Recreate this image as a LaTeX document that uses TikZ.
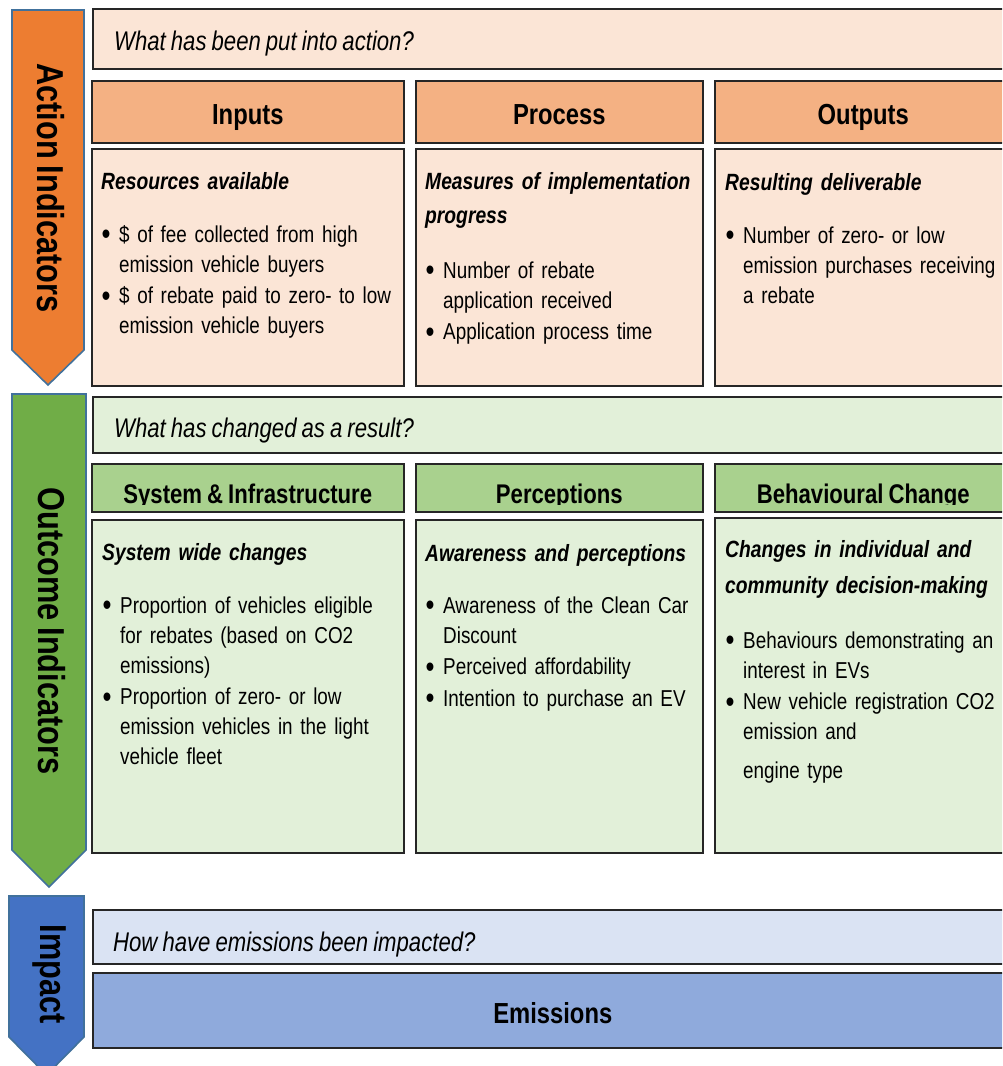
\documentclass[tikz,border=0pt]{standalone}
\usepackage{fontspec}
\setmainfont{Liberation Sans}[FakeStretch=0.82,WordSpace=0.82]
\usetikzlibrary{positioning}
\definecolor{cAct}{HTML}{ED7D31}
\definecolor{cOut}{HTML}{70AD47}
\definecolor{cImp}{HTML}{4472C4}
\definecolor{cEdge}{HTML}{41719C}
\definecolor{cActHd}{HTML}{F4B183}
\definecolor{cActBg}{HTML}{FBE5D6}
\definecolor{cOutHd}{HTML}{A9D18E}
\definecolor{cOutBg}{HTML}{E2F0D9}
\definecolor{cImpHd}{HTML}{8FAADC}
\definecolor{cImpBg}{HTML}{DAE3F3}
% bullet line with hanging indent; lines are broken by hand with \newline
\newcommand{\bitem}[1]{\hangindent=18pt\hangafter=1\noindent
  \makebox[18pt][l]{\hspace{0.5pt}\raisebox{-2.5pt}{\scalebox{1.35}{\textbullet}}}#1\par\vskip1.5pt}

\begin{document}
\begin{tikzpicture}[
  x=1pt, y=-1pt,
  cell/.style={draw=black!85,line width=1.6pt,anchor=north west,inner sep=0pt},
  band/.style={draw=cEdge,line width=1.6pt},
  bandtxt/.style={rotate=-90,inner sep=0pt,font=\fontsize{37.5}{40}\selectfont\bfseries},
  qtxt/.style={anchor=base west,inner sep=0pt,font=\fontsize{27}{32}\selectfont\itshape},
  hdtxt/.style={anchor=base,inner sep=0pt,font=\fontsize{29}{34}\selectfont\bfseries},
  hdtxtg/.style={hdtxt,font=\fontsize{27}{32}\selectfont\bfseries},
  % no align key here: lines are broken by hand
  sub/.style={anchor=base west,inner sep=0pt,text width=340pt,
    font=\fontsize{23.5}{34}\selectfont\bfseries\itshape},
  lst/.style={anchor=base west,inner sep=0pt,text width=340pt,
    font=\fontsize{23}{30}\selectfont}
]
\useasboundingbox (0,0) rectangle (1002,1066);
\clip (0,0) rectangle (1002,1066);

% --- side bands ---
\draw[band,fill=cAct] (12,10) -- (84,10) -- (84,350) -- (48,385) -- (12,350) -- cycle;
\draw[band,fill=cOut] (12,394) -- (86,394) -- (86,850) -- (49,887) -- (12,850) -- cycle;
\draw[band,fill=cImp] (9,896) -- (84,896) -- (84,1037) -- (46.5,1075) -- (9,1037) -- cycle;
\node[bandtxt] (actlbl) at (51,188) {Action Indicators};
\node[bandtxt] (outlbl) at (52,631) {Outcome Indicators};
\node[bandtxt] (implbl) at (50,974) {Impact};

% --- action rows ---
\node[cell,fill=cActBg,minimum width=920pt,minimum height=60pt] (q1) at (92,8) {};
\node[qtxt] (q1txt) at (114,50) {What has been put into action?};
\node[cell,fill=cActHd,minimum width=312pt,minimum height=62pt] (inhd) at (91,80) {};
\node[cell,fill=cActHd,minimum width=287pt,minimum height=62pt,right=10.4pt of inhd] (prhd) {};
\node[cell,fill=cActHd,minimum width=297pt,minimum height=62pt,right=10.4pt of prhd] (ouhd) {};
\node[cell,fill=cActBg,minimum width=312pt,minimum height=237pt,below=4.4pt of inhd] (inbd) {};
\node[cell,fill=cActBg,minimum width=287pt,minimum height=237pt,below=4.4pt of prhd] (prbd) {};
\node[cell,fill=cActBg,minimum width=297pt,minimum height=237pt,below=4.4pt of ouhd] (oubd) {};
\path (inhd.center) ++(0,13) node[hdtxt] (intl) {Inputs};
\path (prhd.center) ++(0,13) node[hdtxt] (prtl) {Process};
\path (ouhd.center) ++(0,13) node[hdtxt] (outl) {Outputs};

\node[sub] (insub) at (101,189) {Resources available};
\node[lst] (inlst) at (101,242) {%
  \bitem{\$ of fee collected from high\newline emission vehicle buyers}
  \bitem{\$ of rebate paid to zero- to low\newline emission vehicle buyers}};
\node[sub] (prsub) at (425,189) {Measures of implementation\newline progress};
\node[lst] (prlst) at (425,278) {%
  \bitem{Number of rebate\newline application received}
  \bitem{Application process time}};
\node[sub] (ousub) at (725,190) {Resulting deliverable};
\node[lst] (oulst) at (725,243) {%
  \bitem{Number of zero- or low\newline emission purchases receiving\newline a rebate}};

% --- outcome rows ---
\node[cell,fill=cOutBg,minimum width=920pt,minimum height=56pt] (q2) at (92,396) {};
\node[qtxt] (q2txt) at (114,437) {What has changed as a result?};
\node[cell,fill=cOutHd,minimum width=312pt,minimum height=48pt] (syhd) at (91,463) {};
\node[cell,fill=cOutHd,minimum width=287pt,minimum height=48pt,right=10.4pt of syhd] (pehd) {};
\node[cell,fill=cOutHd,minimum width=297pt,minimum height=48pt,right=10.4pt of pehd] (behd) {};
\node[cell,fill=cOutBg,minimum width=312pt,minimum height=333pt,below=6.4pt of syhd] (sybd) {};
\node[cell,fill=cOutBg,minimum width=287pt,minimum height=333pt,below=6.4pt of pehd] (pebd) {};
\node[cell,fill=cOutBg,minimum width=297pt,minimum height=335pt,below=4.4pt of behd] (bebd) {};
% titles sit low in their boxes and lose their descenders
\begin{scope}
  \clip (91,463) rectangle (1012,504.5);
  \path (syhd.center) ++(0,16) node[hdtxtg] (sytl) {System \& Infrastructure};
  \path (pehd.center) ++(0,16) node[hdtxtg] (petl) {Perceptions};
  \path (behd.center) ++(0,16) node[hdtxtg] (betl) {Behavioural Change};
\end{scope}

\node[sub] (sysub) at (102,560) {System wide changes};
\node[lst] (sylst) at (102,613) {%
  \bitem{Proportion of vehicles eligible\newline for rebates (based on CO2\newline emissions)}
  \bitem{Proportion of zero- or low\newline emission vehicles in the light\newline vehicle fleet}};
\node[sub] (pesub) at (425,561) {Awareness and perceptions};
\node[lst] (pelst) at (425,613) {%
  \bitem{Awareness of the Clean Car\newline Discount}
  \bitem{Perceived affordability}
  \bitem{Intention to purchase an EV}};
\node[sub,font=\fontsize{23.5}{36}\selectfont\bfseries\itshape] (besub) at (725,557)
  {Changes in individual and\newline community decision-making};
\node[lst] (belst) at (725,648) {%
  \bitem{Behaviours demonstrating an\newline interest in EVs}
  \bitem{New vehicle registration CO2\newline emission and}
  \vskip7pt\noindent\hspace*{18pt}engine type};

% --- impact rows ---
\node[cell,fill=cImpBg,minimum width=920pt,minimum height=54pt] (q3) at (92,909) {};
\node[qtxt] (q3txt) at (113,951) {How have emissions been impacted?};
\node[cell,fill=cImpHd,minimum width=920pt,minimum height=75pt,below=7.4pt of q3] (emis) {};
\path (emis.center) ++(0,13.5) node[hdtxt] (emtl) {Emissions};
\end{tikzpicture}
\end{document}
